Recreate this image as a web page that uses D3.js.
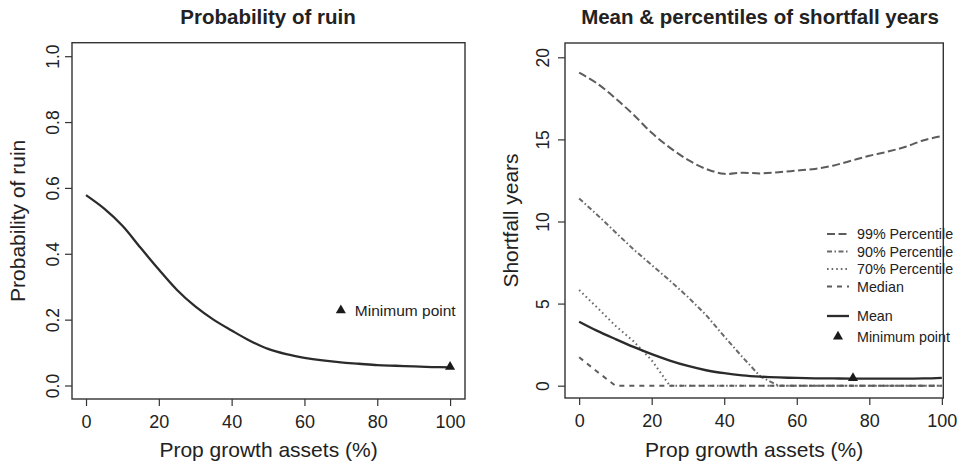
<!DOCTYPE html>
<html>
<head>
<meta charset="utf-8">
<script src="https://cdn.jsdelivr.net/npm/d3@7"></script>
<style>
  body { margin: 0; background: #fff; }
  text { font-family: "Liberation Sans", Arial, sans-serif; fill: #222; }
</style>
</head>
<body>
<svg id="chart" width="960" height="463"></svg>
<script>
// values
const growth = [0, 5, 10, 15, 20, 25, 30, 35, 40, 45, 50, 55, 60, 65, 70, 75, 80, 85, 90, 95, 100];
const ruinProb = [0.578, 0.537, 0.485, 0.418, 0.352, 0.29, 0.24, 0.2, 0.167, 0.136, 0.111, 0.095, 0.084, 0.076, 0.07, 0.066, 0.062, 0.06, 0.058, 0.056, 0.055];
const pct99 = [19.06, 18.4, 17.5, 16.5, 15.4, 14.5, 13.75, 13.2, 12.9, 12.97, 12.93, 13.0, 13.1, 13.2, 13.4, 13.7, 14.0, 14.25, 14.55, 14.95, 15.2];
const pct90 = [11.4, 10.4, 9.35, 8.3, 7.35, 6.4, 5.4, 4.3, 3.0, 1.75, 0.55, 0, 0, 0, 0, 0, 0, 0, 0, 0, 0];
const pct70 = [5.83, 4.75, 3.65, 2.7, 1.55, 0, 0, 0, 0, 0, 0, 0, 0, 0, 0, 0, 0, 0, 0, 0, 0];
const median = [1.73, 0.85, 0, 0, 0, 0, 0, 0, 0, 0, 0, 0, 0, 0, 0, 0, 0, 0, 0, 0, 0];
const meanYears = [3.9, 3.34, 2.84, 2.36, 1.92, 1.53, 1.2, 0.94, 0.76, 0.63, 0.55, 0.5, 0.47, 0.45, 0.44, 0.43, 0.43, 0.43, 0.43, 0.44, 0.48];

const ruinMin = [100, 0.057];
const yearsMin = [75.5, 0.47];

const growthTicks = [0, 20, 40, 60, 80, 100];
const ruinTicks = [0, 0.2, 0.4, 0.6, 0.8, 1.0];
const yearsTicks = [0, 5, 10, 15, 20];

const legendLabels = ["99% Percentile", "90% Percentile", "70% Percentile", "Median", "Mean", "Minimum point"];

let svg = d3.select("#chart");

function panel(opts) {
    let w = opts.right - opts.left, h = opts.bottom - opts.top;
    let g = svg.append("g").attr("transform", "translate(" + opts.left + "," + opts.top + ")");

    let x = d3.scaleLinear().domain(opts.xDomain).range([0, w]);
    let y = d3.scaleLinear().domain(opts.yDomain).range([h, 0]);

    // title
    svg.append("text")
        .attr("x", opts.titleX)
        .attr("y", 24)
        .attr("text-anchor", "middle")
        .attr("font-size", "20.5px")
        .attr("font-weight", "bold")
        .text(opts.title);

    // x axis (R style: ticks hanging below the box)
    let xa = g.append("g")
        .attr("transform", "translate(0," + h + ")")
        .call(d3.axisBottom(x).tickValues(growthTicks).tickSize(7).tickSizeOuter(0));
    xa.select(".domain").remove();
    xa.selectAll("line").attr("stroke", "#333").attr("stroke-width", 1.2);
    xa.selectAll("text")
        .attr("y", 29).attr("dy", null)
        .attr("font-size", "18px").attr("fill", "#222");

    let ya = g.append("g")
        .call(d3.axisLeft(y).tickValues(opts.yTicks).tickFormat(opts.yFormat).tickSize(7).tickSizeOuter(0));
    ya.select(".domain").remove();
    ya.selectAll("line").attr("stroke", "#333").attr("stroke-width", 1.2);
    ya.selectAll("text")
        .attr("x", 0).attr("y", -opts.yLabelGap).attr("dy", null)
        .attr("transform", "rotate(-90)")
        .attr("text-anchor", "middle")
        .attr("font-size", "17.5px").attr("fill", "#222");

    // axis titles
    g.append("text")
        .attr("x", w / 2)
        .attr("y", 457 - opts.top)
        .attr("text-anchor", "middle")
        .attr("font-size", "21px")
        .text("Prop growth assets (%)");

    g.append("text")
        .attr("transform", "translate(" + (opts.yTitleX - opts.left) + "," + (h / 2) + ") rotate(-90)")
        .attr("text-anchor", "middle")
        .attr("font-size", "21px")
        .text(opts.yTitle);

    // box
    g.append("rect")
        .attr("width", w).attr("height", h)
        .attr("fill", "none")
        .attr("stroke", "#333")
        .attr("stroke-width", 1.4);

    return { g: g, x: x, y: y };
}

function drawLine(p, values, style, curve) {
    let line = d3.line()
        .x(function (d, i) { return p.x(growth[i]); })
        .y(function (d) { return p.y(d); })
        .curve(curve || d3.curveCatmullRom.alpha(0.5));
    p.g.append("path")
        .datum(values)
        .attr("d", line)
        .attr("fill", "none")
        .attr("stroke", style.color)
        .attr("stroke-width", style.width)
        .attr("stroke-dasharray", style.dash || null);
}

let tri = d3.symbol().type(d3.symbolTriangle).size(44);

// ---- left: probability of ruin
let left = panel({
    left: 72, right: 465, top: 42.7, bottom: 399,
    xDomain: [-3.85, 104.1], yDomain: [-0.041, 1.041],
    yTicks: ruinTicks, yFormat: d3.format(".1f"),
    title: "Probability of ruin", titleX: 268,
    yTitle: "Probability of ruin", yTitleX: 25, yLabelGap: 13
});

drawLine(left, ruinProb, { color: "#2b2b2b", width: 2.3 });

left.g.append("path")
    .attr("d", tri)
    .attr("transform", "translate(" + left.x(ruinMin[0]) + "," + left.y(ruinMin[1]) + ")")
    .attr("fill", "#1a1a1a");

// legend entry placed in data space like R's legend(x, y)
left.g.append("path")
    .attr("d", tri)
    .attr("transform", "translate(" + left.x(70) + "," + left.y(0.228) + ")")
    .attr("fill", "#1a1a1a");
left.g.append("text")
    .attr("x", left.x(70) + 14)
    .attr("y", left.y(0.228) + 5.5)
    .attr("font-size", "15.5px")
    .text(legendLabels[5]);

// ---- right: shortfall years
let right = panel({
    left: 565, right: 943.3, top: 43, bottom: 398,
    xDomain: [-3.9, 100.4], yDomain: [-0.75, 20.87],
    yTicks: yearsTicks, yFormat: d3.format("d"),
    title: "Mean & percentiles of shortfall years", titleX: 760,
    yTitle: "Shortfall years", yTitleX: 518, yLabelGap: 16
});

let styles = [
    { color: "#5c5c5c", width: 2, dash: "8,3.5" },
    { color: "#6a6a6a", width: 2, dash: "5,2.5,1.5,2.5" },
    { color: "#6a6a6a", width: 2, dash: "1.6,3" },
    { color: "#5c5c5c", width: 2, dash: "5,5" },
    { color: "#2b2b2b", width: 2.3 }
];

drawLine(right, pct99, styles[0]);
drawLine(right, pct90, styles[1], d3.curveLinear);
drawLine(right, pct70, styles[2], d3.curveLinear);
drawLine(right, median, styles[3], d3.curveLinear);
drawLine(right, meanYears, styles[4]);

right.g.append("path")
    .attr("d", tri)
    .attr("transform", "translate(" + right.x(yearsMin[0]) + "," + right.y(yearsMin[1]) + ")")
    .attr("fill", "#1a1a1a");

// legend
let rowY = [234, 251.5, 269, 286.5, 316, 336.5];
let lg = svg.append("g");
legendLabels.forEach(function (label, i) {
    if (i < 5) {
        lg.append("line")
            .attr("x1", 827).attr("x2", 849)
            .attr("y1", rowY[i]).attr("y2", rowY[i])
            .attr("stroke", styles[i].color)
            .attr("stroke-width", styles[i].width)
            .attr("stroke-dasharray", styles[i].dash || null);
    } else {
        lg.append("path")
            .attr("d", tri)
            .attr("transform", "translate(838," + rowY[i] + ")")
            .attr("fill", "#1a1a1a");
    }
    lg.append("text")
        .attr("x", 857)
        .attr("y", rowY[i] + 5)
        .attr("font-size", "14.3px")
        .text(label);
});
</script>
</body>
</html>
